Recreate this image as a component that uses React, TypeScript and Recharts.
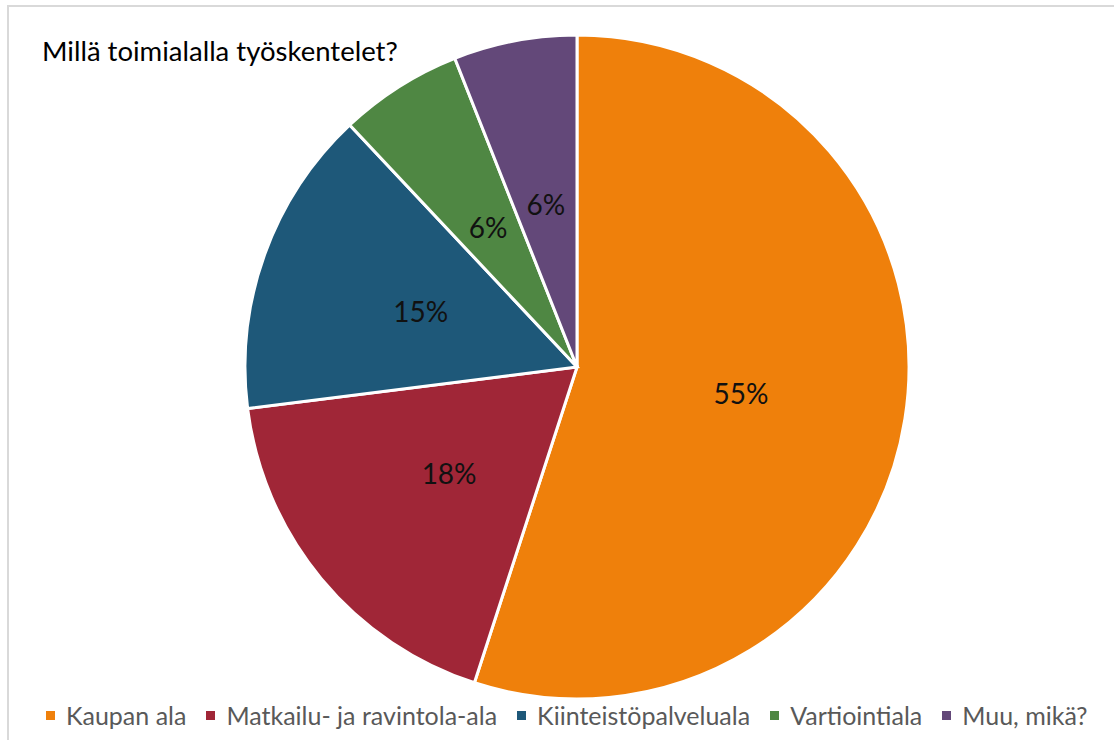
import React from 'react'
import { PieChart, Pie, Cell, Legend } from 'recharts'

const categories = ['Kaupan ala', 'Matkailu- ja ravintola-ala', 'Kiinteistöpalveluala', 'Vartiointiala', 'Muu, mikä?']
const shares = [55, 18, 15, 6, 6]
const COLORS = ['#EF800B', '#A02637', '#1E5879', '#4F8743', '#634879']

const data = categories.map((name, i) => ({ name, value: shares[i] }))

const RADIAN = Math.PI / 180
const FONT = 'Lato, "Noto Sans", sans-serif'

const renderLabel = (props: any) => {
  const { cx, cy, midAngle, outerRadius, value } = props
  const r = outerRadius * 0.5
  const x = cx + r * Math.cos(-midAngle * RADIAN)
  const y = cy + r * Math.sin(-midAngle * RADIAN)
  return (
    <text
      x={x}
      y={y}
      fill="#111111"
      textAnchor="middle"
      dominantBaseline="central"
      style={{ fontFamily: FONT, fontSize: 28 }}
    >
      {`${value}%`}
    </text>
  )
}

const LegendContent = (props: any) => {
  const payload = [...(props.payload || [])].sort(
    (a: any, b: any) => categories.indexOf(a.value) - categories.indexOf(b.value)
  )
  return (
    <div style={{ display: 'flex', alignItems: 'center', paddingLeft: 46, fontFamily: FONT, fontSize: 25, color: '#595959' }}>
      {payload.map((entry: any, i: number) => (
        <div key={`item-${i}`} style={{ display: 'flex', alignItems: 'center', marginRight: 20 }}>
          <span style={{ display: 'inline-block', width: 9, height: 9, background: entry.color, marginRight: 11 }} />
          <span>{entry.value}</span>
        </div>
      ))}
    </div>
  )
}

export default function App() {
  return (
    <div style={{ position: 'absolute', left: 0, top: 0, width: 1114, height: 740, background: '#fff', overflow: 'hidden' }}>
      <div
        style={{
          position: 'absolute',
          left: 7,
          top: 5,
          width: 1200,
          height: 800,
          borderTop: '2px solid #d9d9d9',
          borderLeft: '2px solid #d9d9d9',
        }}
      />
      <div
        style={{
          position: 'absolute',
          left: 42,
          top: 34,
          fontFamily: FONT,
          fontSize: 27.5,
          color: '#000',
          whiteSpace: 'nowrap',
        }}
      >
        Millä toimialalla työskentelet?
      </div>
      <div style={{ position: 'absolute', left: 0, top: 0 }}>
        <PieChart width={1114} height={740} margin={{ top: 0, right: 0, bottom: 0, left: 0 }}>
          <Pie
            data={data}
            dataKey="value"
            nameKey="name"
            cx={577}
            cy={367}
            outerRadius={332}
            startAngle={90}
            endAngle={-270}
            stroke="#ffffff"
            strokeWidth={3}
            labelLine={false}
            label={renderLabel}
            isAnimationActive={false}
          >
            {data.map((entry, index) => (
              <Cell key={`cell-${index}`} fill={COLORS[index % COLORS.length]} />
            ))}
          </Pie>
          <Legend
            content={<LegendContent />}
            wrapperStyle={{ left: 0, top: 700, width: 1114, bottom: 'auto' }}
          />
        </PieChart>
      </div>
    </div>
  )
}
